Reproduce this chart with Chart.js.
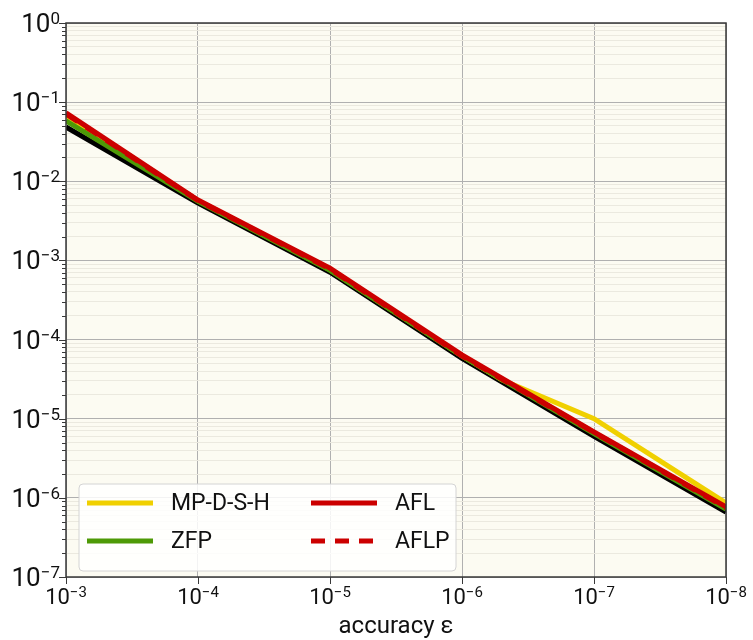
<!DOCTYPE html>
<html lang="en">
<head>
    <meta charset="UTF-8">
    <script src="https://cdn.jsdelivr.net/npm/chart.js"></script>
    <title>accuracy chart</title>
    <style>
        body { margin: 0; background: #fff; }
        #wrap { width: 753px; height: 640px; }
    </style>
</head>
<body>
    <div id="wrap"><canvas id="accChart" width="753" height="640"></canvas></div>

    <script>
        // accuracy values on the x axis (reversed, log)
        const epsilons = [1e-3, 1e-4, 1e-5, 1e-6, 1e-7, 1e-8];
        const epsilonsMP = [1e-3, 1e-4, 1e-5, 1e-6, 5e-7, 1e-7, 1e-8];

        const mpdsh = [0.068, 5.7e-3, 7.6e-4, 6.2e-5, 3.1e-5, 1.0e-5, 8.6e-7];
        const zfp = [0.058, 5.6e-3, 7.5e-4, 6.2e-5, 6.5e-6, 7.2e-7];
        const afl = [0.073, 5.8e-3, 8.0e-4, 6.4e-5, 6.8e-6, 7.7e-7];
        const aflp = [0.071, 5.7e-3, 7.8e-4, 6.2e-5, 6.7e-6, 7.5e-7];
        const reference = [0.0485, 5.3e-3, 7.1e-4, 5.8e-5, 6.0e-6, 6.6e-7];

        const yDecades = [0, -1, -2, -3, -4, -5, -6, -7];
        const xDecades = [-3, -4, -5, -6, -7, -8];

        const legendItems = [
            { label: 'MP-D-S-H', color: '#f0d000', dash: [] },
            { label: 'ZFP', color: '#4e9a06', dash: [] },
            { label: 'AFL', color: '#cc0000', dash: [] },
            { label: 'AFLP', color: '#cc0000', dash: [14, 10] }
        ];

        const pts = (xs, ys) => xs.map((x, i) => ({ x: x, y: ys[i] }));
        const isMajor = v => Math.abs(Math.log10(v) - Math.round(Math.log10(v))) < 1e-6;
        const FONT = 'Roboto, "DejaVu Sans", sans-serif';

        const framePlugin = {
            id: 'frame',
            beforeDraw(chart) {
                const { ctx, chartArea: a } = chart;
                ctx.save();
                ctx.fillStyle = '#fcfbf2';
                ctx.fillRect(a.left, a.top, a.right - a.left, a.bottom - a.top);
                ctx.restore();
            },
            afterDraw(chart) {
                const { ctx, chartArea: a } = chart;
                const xs = chart.scales.x, ys = chart.scales.y;
                ctx.save();

                // box
                ctx.strokeStyle = '#383838';
                ctx.lineWidth = 1.5;
                ctx.strokeRect(a.left, a.top, a.right - a.left, a.bottom - a.top);

                // tick marks
                ctx.lineWidth = 1;
                ys.ticks.forEach(t => {
                    const y = Math.round(ys.getPixelForValue(t.value)) + 0.5;
                    const len = isMajor(t.value) ? 7 : 4;
                    ctx.beginPath();
                    ctx.moveTo(a.left - len, y);
                    ctx.lineTo(a.left, y);
                    ctx.stroke();
                });
                xs.ticks.forEach(t => {
                    const x = Math.round(xs.getPixelForValue(t.value)) + 0.5;
                    ctx.beginPath();
                    ctx.moveTo(x, a.bottom);
                    ctx.lineTo(x, a.bottom + 7);
                    ctx.stroke();
                });

                // y tick labels 10^k
                ctx.fillStyle = '#111';
                ctx.textBaseline = 'alphabetic';
                yDecades.forEach(k => {
                    const y = ys.getPixelForValue(Math.pow(10, k));
                    const exp = k === 0 ? '0' : '\u2212' + (-k);
                    ctx.font = '26px ' + FONT;
                    const w10 = ctx.measureText('10').width;
                    ctx.font = '17px ' + FONT;
                    const wE = ctx.measureText(exp).width;
                    const right = 60;
                    ctx.font = '26px ' + FONT;
                    ctx.textAlign = 'left';
                    ctx.fillText('10', right - wE - w10, y + 9);
                    ctx.font = '17px ' + FONT;
                    ctx.fillText(exp, right - wE, y + 1);
                });

                // x tick labels 10^k
                xDecades.forEach(k => {
                    const x = xs.getPixelForValue(Math.pow(10, k));
                    const exp = '\u2212' + (-k);
                    ctx.font = '22px ' + FONT;
                    const w10 = ctx.measureText('10').width;
                    ctx.font = '15px ' + FONT;
                    const wE = ctx.measureText(exp).width;
                    const left = x - (w10 + wE) / 2;
                    ctx.textAlign = 'left';
                    ctx.font = '22px ' + FONT;
                    ctx.fillText('10', left, a.bottom + 27);
                    ctx.font = '15px ' + FONT;
                    ctx.fillText(exp, left + w10, a.bottom + 20);
                });

                // axis title
                ctx.font = '24px ' + FONT;
                ctx.textAlign = 'center';
                ctx.fillText('accuracy \u03b5', (a.left + a.right) / 2, a.bottom + 56);

                // legend box, two columns
                const bx = a.left + 13, by = a.bottom - 93, bw = 377, bh = 87;
                ctx.beginPath();
                ctx.roundRect(bx, by, bw, bh, 4);
                ctx.fillStyle = 'rgba(255,255,255,0.85)';
                ctx.fill();
                ctx.strokeStyle = '#d4d4d4';
                ctx.lineWidth = 1;
                ctx.stroke();

                ctx.font = '23px ' + FONT;
                ctx.textAlign = 'left';
                ctx.textBaseline = 'middle';
                legendItems.forEach((it, i) => {
                    const col = Math.floor(i / 2), row = i % 2;
                    const lx = bx + 8 + col * 224;
                    const ly = by + 19 + row * 38;
                    ctx.strokeStyle = it.color;
                    ctx.lineWidth = 5;
                    ctx.setLineDash(it.dash);
                    ctx.beginPath();
                    ctx.moveTo(lx, ly);
                    ctx.lineTo(lx + 66, ly);
                    ctx.stroke();
                    ctx.setLineDash([]);
                    ctx.fillStyle = '#111';
                    ctx.fillText(it.label, lx + 84, ly + 1);
                });

                ctx.restore();
            }
        };

        const lineSet = (label, data, color, order, extra) => Object.assign({
            label: label,
            data: data,
            borderColor: color,
            backgroundColor: color,
            borderWidth: 5,
            pointRadius: 0,
            tension: 0,
            fill: false,
            order: order
        }, extra || {});

        new Chart(document.getElementById('accChart').getContext('2d'), {
            type: 'line',
            data: {
                datasets: [
                    lineSet('reference', pts(epsilons, reference), '#000000', 5),
                    lineSet('MP-D-S-H', pts(epsilonsMP, mpdsh), '#f0d000', 4),
                    lineSet('ZFP', pts(epsilons, zfp), '#4e9a06', 3),
                    lineSet('AFL', pts(epsilons, afl), '#cc0000', 2),
                    lineSet('AFLP', pts(epsilons, aflp), '#cc0000', 1, { borderDash: [14, 10] })
                ]
            },
            options: {
                responsive: false,
                animation: false,
                layout: { padding: { top: 23, right: 27, left: 0, bottom: 0 } },
                plugins: { legend: { display: false }, tooltip: { enabled: false } },
                scales: {
                    x: {
                        type: 'logarithmic',
                        reverse: true,
                        min: 1e-8,
                        max: 1e-3,
                        afterBuildTicks: s => { s.ticks = xDecades.map(k => ({ value: Math.pow(10, k) })); },
                        afterFit: s => { s.height = 63; },
                        ticks: { display: false, autoSkip: false },
                        border: { display: false },
                        grid: { color: '#b0b0b0', lineWidth: 1, drawTicks: false }
                    },
                    y: {
                        type: 'logarithmic',
                        min: 1e-7,
                        max: 1,
                        afterBuildTicks: s => {
                            const list = [];
                            for (let k = -7; k < 0; k++) {
                                for (let m = 1; m < 10; m++) list.push({ value: m * Math.pow(10, k) });
                            }
                            list.push({ value: 1 });
                            s.ticks = list;
                        },
                        afterFit: s => { s.width = 66; },
                        ticks: { display: false, autoSkip: false },
                        border: { display: false },
                        grid: {
                            drawTicks: false,
                            lineWidth: 1,
                            color: c => (c.tick && isMajor(c.tick.value)) ? '#b0b0b0' : '#ebe9df'
                        }
                    }
                }
            },
            plugins: [framePlugin]
        });
    </script>
</body>
</html>
